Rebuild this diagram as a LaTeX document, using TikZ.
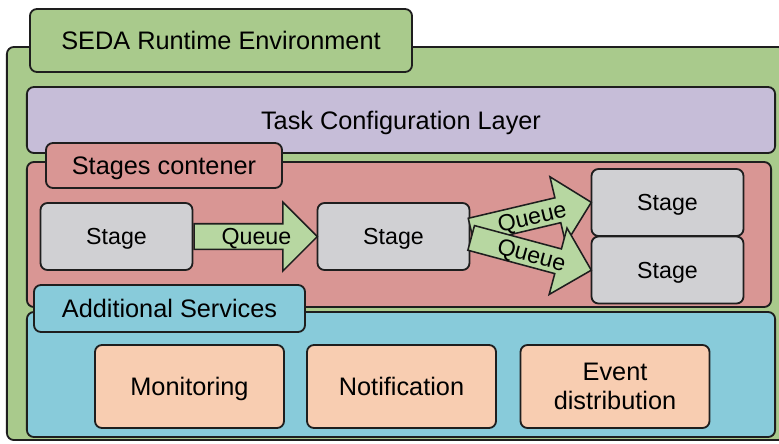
\documentclass[tikz,border=0pt]{standalone}
\usepackage{fontspec}
\setmainfont{Liberation Sans}
\usepackage{xcolor}
\usetikzlibrary{shapes.arrows,calc}

\definecolor{envgreen}{HTML}{A9CA8C}
\definecolor{taskpurple}{HTML}{C6BDD8}
\definecolor{stagered}{HTML}{D99694}
\definecolor{stagegray}{HTML}{D0D0D3}
\definecolor{servblue}{HTML}{88CBDA}
\definecolor{servpeach}{HTML}{F8CDB1}
\definecolor{queuegreen}{HTML}{B7D7A1}
\definecolor{edgeblack}{HTML}{1E1E1E}

\begin{document}
\begin{tikzpicture}[x=0.025cm, y=-0.025cm,
    box/.style={rectangle, draw=edgeblack, line width=1.3pt, rounded corners=5pt, inner sep=0pt,
      text=black, font=\fontsize{18}{21}\selectfont, text height=12.9pt, text depth=0pt},
    stagebox/.style={box, fill=stagegray, minimum width=3.8cm, minimum height=1.675cm,
      font=\fontsize{16.5}{19}\selectfont, text height=11.8pt},
    servbox/.style={box, fill=servpeach, minimum width=4.725cm, minimum height=2.075cm, align=center},
    queue/.style={single arrow, draw=edgeblack, line width=1.1pt, fill=queuegreen, anchor=tail,
      single arrow head extend=0.54cm, inner sep=0pt, text height=0.51cm, text depth=0.09cm,
      font=\fontsize{16.5}{19}\selectfont, execute at begin node=\hspace*{0.35cm}}]
  \useasboundingbox (0,0) rectangle (779,443);

  % Define layers
  \node[box, fill=envgreen, minimum width=19.45cm, minimum height=9.825cm] (env) at (396,243.5) {};
  \node[box, fill=envgreen, minimum width=9.55cm, minimum height=1.575cm] (envtab) at (221,40.5) {SEDA Runtime Environment};
  \node[box, fill=taskpurple, minimum width=18.7cm, minimum height=1.65cm] (task) at (401,120) {Task Configuration Layer};
  \node[box, fill=stagered, minimum width=18.6cm, minimum height=3.625cm] (stages) at (399,234.5) {};
  \node[box, fill=stagered, minimum width=5.9cm, minimum height=1.125cm] (stagestab) at (164,165.5) {Stages contener};
  \node[box, fill=servblue, minimum width=18.7cm, minimum height=3.125cm] (serv) at (401,374.5) {};
  \node[box, fill=servblue, minimum width=6.775cm, minimum height=1.175cm] (servtab) at (169.5,308.5) {Additional Services};

  % Define stages
  \node[stagebox] (s1) at (116.5,236.5) {Stage};
  \node[stagebox] (s2) at (393.5,236.5) {Stage};
  \node[stagebox] (s3) at (667.5,202.5) {Stage};
  \node[stagebox] (s4) at (667.5,270) {Stage};

  % Define services
  \node[servbox] (mon) at (189.5,386.5) {Monitoring};
  \node[servbox] (notif) at (401.5,386.5) {Notification};
  \node[servbox, text height=, text depth=] (event) at (615,386.5) {Event\\distribution};

  % Draw queues
  \coordinate (s2up) at ([yshift=0.14cm]s2.east);
  \coordinate (s2down) at ([yshift=-0.03cm]s2.east);
  \path let \p1=($(s2.west)-(s1.east)$), \n1={atan2(\y1,\x1)}, \n2={veclen(\x1,\y1)} in
    node[queue, rotate=\n1, minimum height=\n2] (q1) at (s1.east) {Queue};
  \path let \p1=($(s3.west)-(s2up)$), \n1={atan2(\y1,\x1)}, \n2={veclen(\x1,\y1)} in
    node[queue, rotate=\n1, minimum height=\n2] (q2) at (s2up) {Queue};
  \path let \p1=($(s4.west)-(s2down)$), \n1={atan2(\y1,\x1)}, \n2={veclen(\x1,\y1)} in
    node[queue, rotate=\n1, minimum height=\n2] (q3) at (s2down) {Queue};
\end{tikzpicture}
\end{document}
